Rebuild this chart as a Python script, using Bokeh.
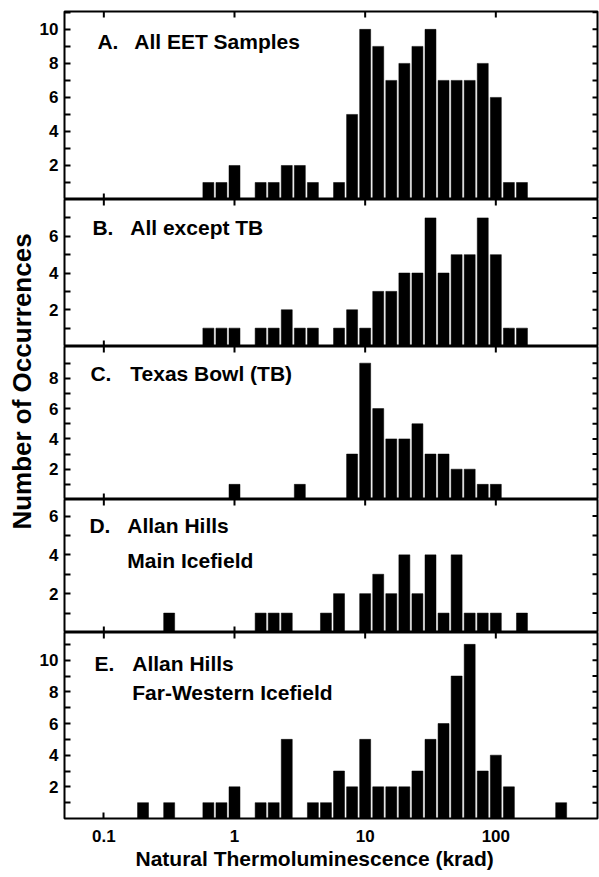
import numpy as np
from bokeh.plotting import figure
from bokeh.models import (Range1d, FixedTicker, Label, CustomJSTickFormatter,
                          ColumnDataSource, Title)
from bokeh.layouts import column, row
from bokeh.embed import file_html
from bokeh.resources import INLINE
from bokeh.core.properties import value

FONT = "Liberation Sans"

# ---------------- data ----------------
# histogram bin centres, log10(krad), bins 0.1 decade wide
log_bin_centers = [-0.7, -0.6, -0.5, -0.4, -0.3, -0.2, -0.1, 0.0, 0.1, 0.2, 0.3,
                   0.4, 0.5, 0.6, 0.7, 0.8, 0.9, 1.0, 1.1, 1.2, 1.3, 1.4, 1.5,
                   1.6, 1.7, 1.8, 1.9, 2.0, 2.1, 2.2, 2.3, 2.4, 2.5]

counts_A = [0, 0, 0, 0, 0, 1, 1, 2, 0, 1, 1, 2, 2, 1, 0, 1, 5,
            10, 9, 7, 8, 9, 10, 7, 7, 7, 8, 6, 1, 1, 0, 0, 0]
counts_B = [0, 0, 0, 0, 0, 1, 1, 1, 0, 1, 1, 2, 1, 1, 0, 1, 2,
            1, 3, 3, 4, 4, 7, 4, 5, 5, 7, 5, 1, 1, 0, 0, 0]
counts_C = [0, 0, 0, 0, 0, 0, 0, 1, 0, 0, 0, 0, 1, 0, 0, 0, 3,
            9, 6, 4, 4, 5, 3, 3, 2, 2, 1, 1, 0, 0, 0, 0, 0]
counts_D = [0, 0, 1, 0, 0, 0, 0, 0, 0, 1, 1, 1, 0, 0, 1, 2, 0,
            2, 3, 2, 4, 2, 4, 1, 4, 1, 1, 1, 0, 1, 0, 0, 0]
counts_E = [1, 0, 1, 0, 0, 1, 1, 2, 0, 1, 1, 5, 0, 1, 1, 3, 2,
            5, 2, 2, 2, 3, 5, 6, 9, 11, 3, 4, 2, 0, 0, 0, 1]

panel_counts = [counts_A, counts_B, counts_C, counts_D, counts_E]
panel_letters = ["A.", "B.", "C.", "D.", "E."]
panel_titles = [["All EET Samples"], ["All except TB"], ["Texas Bowl (TB)"],
                ["Allan Hills", "Main Icefield"],
                ["Allan Hills", "Far-Western Icefield"]]
panel_ymax = [11.05, 8.0, 10.1, 6.85, 11.75]
panel_labelled_yticks = [[2, 4, 6, 8, 10], [2, 4, 6], [2, 4, 6, 8], [2, 4, 6],
                         [2, 4, 6, 8, 10]]
panel_other_yticks = [[1, 3, 5, 7, 9, 11], [1, 3, 5, 7], [1, 3, 5, 7, 9],
                      [1, 3, 5], [1, 3, 5, 7, 9, 11]]

x_ticks = [0.1, 1, 10, 100]
x_title = "Natural Thermoluminescence (krad)"
y_title = "Number of Occurrences"

# ---------------- layout ----------------
X_LO, X_HI = 0.05, 600.0
TITLE_W = 36
PANEL_W = 563
BORDER_L = 26
BORDER_R = 2
FRAME_LEFT = TITLE_W + BORDER_L          # page x of frame left
FRAME_W = PANEL_W - BORDER_L - BORDER_R
# page y of frame top / bottom for each panel
frame_tb = [(11, 199), (199, 346), (346, 499), (499, 632), (632, 818)]
BOTTOM_BORDER_E = 57
# label placement (page px)
letter_px = [95, 90, 88, 87, 92]
text_px = [132, 128, 128, 125, 130]
line_py = [[41], [227], [373], [525, 560], [663, 692]]
XTITLE_LEFT_PX = 133

HALF_W = 0.042   # half bar width in decades
TICK_LEN_X = 6   # px, ticks on the horizontal edges
TICK_LEN_Y = 5   # px, ticks on the right edge


def px_to_x(px):
    lo, hi = np.log10(X_LO), np.log10(X_HI)
    return 10 ** (lo + (px - FRAME_LEFT) / FRAME_W * (hi - lo))


def py_to_y(py, top, bottom, ymax):
    return (bottom - py) / (bottom - top) * ymax


panels = []
n = len(panel_counts)
for i in range(n):
    top, bottom = frame_tb[i]
    frame_h = bottom - top
    is_first = i == 0
    is_last = i == n - 1
    b_top = top if is_first else 0
    b_bot = BOTTOM_BORDER_E if is_last else 0
    h = frame_h + b_top + b_bot
    ymax = panel_ymax[i]

    p = figure(width=PANEL_W, height=h, x_axis_type="log",
               x_range=Range1d(X_LO, X_HI), y_range=Range1d(0, ymax),
               output_backend="svg", toolbar_location=None,
               min_border_left=BORDER_L, min_border_right=BORDER_R,
               min_border_top=b_top, min_border_bottom=b_bot)
    p.xgrid.visible = False
    p.ygrid.visible = False
    p.background_fill_color = "white"
    p.border_fill_color = "white"
    p.outline_line_color = "black"
    p.outline_line_width = 2

    cnt = np.array(panel_counts[i], dtype=float)
    cen = np.array(log_bin_centers)
    m = cnt > 0
    src = ColumnDataSource(dict(left=10 ** (cen[m] - HALF_W),
                                right=10 ** (cen[m] + HALF_W),
                                top=cnt[m]))
    p.quad(left="left", right="right", bottom=0, top="top", source=src,
           fill_color="black", line_color="black", line_width=0.5)

    # left y axis (labelled)
    yt = FixedTicker(ticks=panel_labelled_yticks[i],
                     minor_ticks=panel_other_yticks[i])
    for ax in p.yaxis:
        ax.ticker = yt
        ax.axis_line_color = None
        ax.major_tick_in = 6
        ax.major_tick_out = 0
        ax.minor_tick_in = 6
        ax.minor_tick_out = 0
        ax.major_tick_line_width = 2
        ax.minor_tick_line_width = 2
        ax.major_label_standoff = 6
        ax.major_label_text_font = FONT
        ax.major_label_text_font_style = "bold"
        ax.major_label_text_font_size = "17px"
        ax.major_label_text_color = "black"

    # right-edge ticks (inward), drawn through the scales
    all_y = sorted(panel_labelled_yticks[i] + panel_other_yticks[i])
    span = np.log10(X_HI) - np.log10(X_LO)
    x_in = 10 ** (np.log10(X_HI) - TICK_LEN_Y / FRAME_W * span)
    p.segment(x0=[x_in] * len(all_y), y0=all_y, x1=[X_HI] * len(all_y),
              y1=all_y, line_color="black", line_width=2)

    # top-edge ticks (inward)
    dy = TICK_LEN_X / frame_h * ymax
    p.segment(x0=x_ticks, y0=[ymax] * len(x_ticks), x1=x_ticks,
              y1=[ymax - dy] * len(x_ticks), line_color="black", line_width=2)

    # bottom x axis
    if is_last:
        ax = p.xaxis[0]
        ax.ticker = FixedTicker(ticks=x_ticks, minor_ticks=[])
        ax.axis_line_color = None
        ax.major_tick_in = 6
        ax.major_tick_out = 0
        ax.major_tick_line_width = 2
        ax.formatter = CustomJSTickFormatter(code="return tick.toString();")
        ax.major_label_standoff = 11
        ax.major_label_text_font = FONT
        ax.major_label_text_font_style = "bold"
        ax.major_label_text_font_size = "17px"
        ax.major_label_text_color = "black"
        xt = Title(text=x_title, align="left",
                   offset=XTITLE_LEFT_PX - FRAME_LEFT, standoff=0,
                   text_font=FONT, text_font_style="bold",
                   text_font_size="21px", text_color="black")
        p.add_layout(xt, "below")
    else:
        p.xaxis.visible = False
        p.segment(x0=x_ticks, y0=[0] * len(x_ticks), x1=x_ticks,
                  y1=[dy] * len(x_ticks), line_color="black", line_width=2)

    # panel labels
    lab_kw = dict(text_font=FONT, text_font_style="bold", text_font_size="21px",
                  text_color="black", text_baseline="alphabetic",
                  text_align="left")
    p.add_layout(Label(x=px_to_x(letter_px[i]),
                       y=py_to_y(line_py[i][0], top, bottom, ymax),
                       text=panel_letters[i], **lab_kw))
    for line, py in zip(panel_titles[i], line_py[i]):
        p.add_layout(Label(x=px_to_x(text_px[i]),
                           y=py_to_y(py, top, bottom, ymax),
                           text=line, **lab_kw))
    panels.append(p)

total_h = sum(pp.height for pp in panels)

# y-axis title strip
t = figure(width=TITLE_W, height=total_h, x_range=Range1d(0, TITLE_W),
           y_range=Range1d(0, total_h), output_backend="svg",
           toolbar_location=None, min_border=0)
t.axis.visible = False
t.grid.visible = False
t.outline_line_color = None
t.background_fill_color = "white"
t.border_fill_color = "white"
title_center_page_y = 381
title_center_page_x = 21
t.text(x=[title_center_page_x], y=[total_h - title_center_page_y],
       text=[y_title], angle=np.pi / 2, text_align="center",
       text_baseline="middle", text_font=value(FONT),
       text_font_style="bold", text_font_size="26px", text_color="black")

layout = row(t, column(*panels, spacing=0), spacing=0)

with open("out.html", "w") as f:
    f.write(file_html(layout, INLINE))
